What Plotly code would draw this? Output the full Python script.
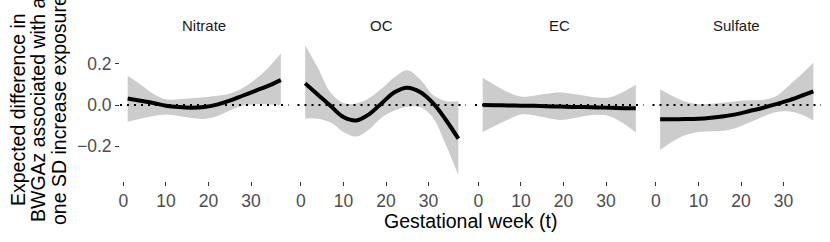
import plotly.graph_objects as go

weeks = [1, 4, 7, 10, 13, 16, 19, 22, 25, 28, 31, 34, 37]
pollutants = ["Nitrate", "OC", "EC", "Sulfate"]

nitrate_est = [0.032, 0.021, 0.010, -0.003, -0.010, -0.013, -0.010, 0.002, 0.021, 0.045, 0.069, 0.093, 0.121]
nitrate_hi = [0.142, 0.100, 0.055, 0.028, 0.028, 0.033, 0.038, 0.045, 0.055, 0.082, 0.125, 0.180, 0.250]
nitrate_lo = [-0.081, -0.066, -0.053, -0.046, -0.053, -0.063, -0.067, -0.054, -0.027, -0.003, 0.004, 0.003, 0.000]

oc_est = [0.105, 0.050, -0.005, -0.058, -0.075, -0.045, 0.009, 0.062, 0.084, 0.063, 0.010, -0.070, -0.163]
oc_hi = [0.290, 0.180, 0.060, 0.010, 0.008, 0.033, 0.080, 0.135, 0.169, 0.125, 0.050, 0.020, 0.019]
oc_lo = [-0.065, -0.066, -0.085, -0.130, -0.152, -0.118, -0.060, -0.027, -0.008, -0.010, -0.060, -0.190, -0.340]

ec_est = [0.000, -0.001, -0.002, -0.003, -0.004, -0.006, -0.007, -0.009, -0.010, -0.012, -0.013, -0.015, -0.016]
ec_hi = [0.132, 0.095, 0.062, 0.041, 0.045, 0.055, 0.061, 0.055, 0.045, 0.036, 0.038, 0.063, 0.098]
ec_lo = [-0.130, -0.100, -0.070, -0.046, -0.050, -0.062, -0.072, -0.065, -0.053, -0.047, -0.055, -0.088, -0.133]

sulfate_est = [-0.069, -0.069, -0.068, -0.066, -0.061, -0.054, -0.044, -0.029, -0.014, 0.003, 0.021, 0.043, 0.066]
sulfate_hi = [0.077, 0.043, 0.016, 0.004, 0.006, 0.012, 0.019, 0.023, 0.025, 0.040, 0.090, 0.145, 0.205]
sulfate_lo = [-0.218, -0.175, -0.145, -0.131, -0.127, -0.124, -0.110, -0.085, -0.058, -0.035, -0.030, -0.045, -0.075]

x_ticks = [0, 10, 20, 30]
y_ticks = [-0.2, 0.0, 0.2]

series = [
    (nitrate_est, nitrate_hi, nitrate_lo),
    (oc_est, oc_hi, oc_lo),
    (ec_est, ec_hi, ec_lo),
    (sulfate_est, sulfate_hi, sulfate_lo),
]

FONT = "Liberation Sans, Arial, sans-serif"
W, H = 830, 242
ML, MR, MT, MB = 120, 9, 39, 61
plot_w = W - ML - MR
gap = 9 / plot_w
pw = (1 - 3 * gap) / 4

fig = go.Figure()
layout = dict(
    width=W, height=H,
    margin=dict(l=ML, r=MR, t=MT, b=MB, pad=0),
    paper_bgcolor="white", plot_bgcolor="white",
    showlegend=False,
    font=dict(family=FONT),
)
annotations = []
shapes = []
for i, (name, (est, hi, lo)) in enumerate(zip(pollutants, series)):
    xa = "x" if i == 0 else f"x{i+1}"
    ya = "y" if i == 0 else f"y{i+1}"
    fig.add_trace(go.Scatter(x=weeks, y=hi, mode="lines", line=dict(width=0, shape="spline"),
                             xaxis=xa, yaxis=ya, hoverinfo="skip"))
    fig.add_trace(go.Scatter(x=weeks, y=lo, mode="lines", line=dict(width=0, shape="spline"),
                             fill="tonexty", fillcolor="#cccccc",
                             xaxis=xa, yaxis=ya, hoverinfo="skip"))
    fig.add_trace(go.Scatter(x=weeks, y=est, mode="lines",
                             line=dict(width=4, color="black", shape="spline"),
                             xaxis=xa, yaxis=ya))
    d0 = i * (pw + gap)
    d1 = d0 + pw
    key = "xaxis" if i == 0 else f"xaxis{i+1}"
    ykey = "yaxis" if i == 0 else f"yaxis{i+1}"
    layout[key] = dict(
        domain=[d0, d1], range=[-0.8, 38.8], anchor=ya,
        tickvals=x_ticks, ticks="outside", ticklen=4, tickwidth=1, tickcolor="#333333",
        tickfont=dict(size=17.5, color="#4d4d4d", family=FONT),
        showgrid=False, zeroline=False, showline=False,
    )
    layout[ykey] = dict(
        domain=[0, 1], range=[-0.368, 0.32], anchor=xa,
        tickvals=y_ticks, tickformat=".1f",
        ticks="outside" if i == 0 else "", ticklen=4, tickwidth=1, tickcolor="#333333",
        showticklabels=(i == 0),
        tickfont=dict(size=17.5, color="#4d4d4d", family=FONT),
        showgrid=False, zeroline=False, showline=False,
    )
    if i > 0:
        layout[ykey]["matches"] = "y"
    shapes.append(dict(type="line", xref=f"{xa} domain", yref=ya, x0=0, x1=1, y0=0, y1=0,
                       line=dict(color="black", width=2, dash="2px,5px"), layer="above"))
    annotations.append(dict(text=name, xref="paper", yref="paper", x=(d0 + d1) / 2, y=1,
                            yshift=14, xanchor="center", yanchor="middle", showarrow=False,
                            font=dict(size=15, color="#1a1a1a", family=FONT)))

annotations.append(dict(text="Gestational week (t)", xref="paper", yref="paper", x=0.5, y=0,
                        yshift=-40, xanchor="center", yanchor="middle", showarrow=False,
                        font=dict(size=19.5, color="black", family=FONT)))
ylines = ["Expected difference in", "BWGAz associated with a", "one SD increase exposure"]
for k, (t, px) in enumerate(zip(ylines, [18, 38, 59])):
    annotations.append(dict(text=t, xref="paper", yref="paper", x=(px - ML) / plot_w, y=0.5,
                            xanchor="center", yanchor="middle", textangle=-90, showarrow=False,
                            font=dict(size=19.5, color="black", family=FONT)))
layout["annotations"] = annotations
layout["shapes"] = shapes
fig.update_layout(**layout)
fig.write_html("out.html", config={"displayModeBar": False},
               post_script="document.body.style.margin='0';")
